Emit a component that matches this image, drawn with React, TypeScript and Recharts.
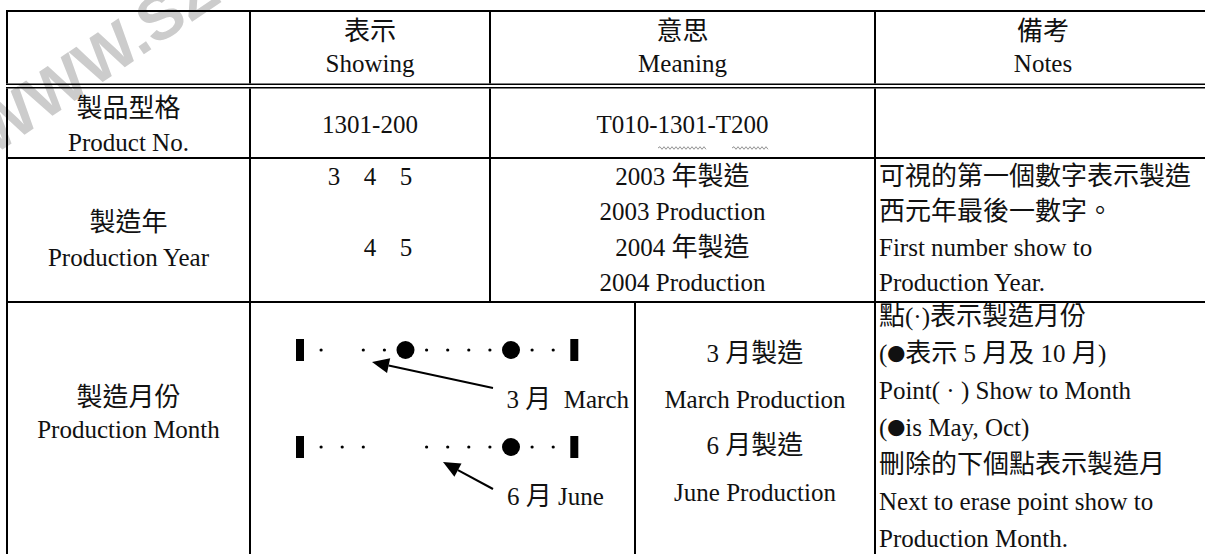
import React from 'react';
import { ScatterChart, Scatter, XAxis, YAxis, Customized } from 'recharts';

const W = 1205;
const H = 554;

// ---- table content ----
const headerZh = ['表示', '意思', '備考'];
const headerEn = ['Showing', 'Meaning', 'Notes'];
const productLabel = ['製品型格', 'Product No.'];
const productShowing = '1301-200';
const productMeaning = 'T010-1301-T200';
const yearLabel = ['製造年', 'Production Year'];
const yearDigitsTop = ['3', '4', '5'];
const yearDigitsBottom = ['', '4', '5'];
const yearMeaning = ['2003 年製造', '2003 Production', '2004 年製造', '2004 Production'];
const yearNotes = ['可視的第一個數字表示製造', '西元年最後一數字。', 'First number show to', 'Production Year.'];
const monthLabel = ['製造月份', 'Production Month'];
const monthArrowLabels = ['3 月  March', '6 月 June'];
const monthMeaning = ['3 月製造', 'March Production', '6 月製造', 'June Production'];
const monthNotes = [
  '點(·)表示製造月份',
  '(●表示 5 月及 10 月)',
  'Point( · ) Show to Month',
  '(●is May, Oct)',
  '刪除的下個點表示製造月',
  'Next to erase point show to',
  'Production Month.',
];
const watermark = 'WWW.SZ';

// ---- month strips (slot 0 and 13 are the end bars, 1..12 are months) ----
const marchSlots = [0, 1, 3, 4, 5, 6, 7, 8, 9, 10, 11, 12, 13];
const juneSlots = [0, 1, 2, 3, 6, 7, 8, 9, 10, 11, 12, 13];
const bigMonths = [5, 10];
const endSlots = [0, 13];

const stripData = [
  ...marchSlots.map((slot) => ({ slot, row: 1 })),
  ...juneSlots.map((slot) => ({ slot, row: 2 })),
];

const LATIN = "'Liberation Serif', serif";
const CJK = "'Noto Sans CJK TC', 'Noto Sans CJK SC', sans-serif";
const FS = 25;
const FS_CJK = 26;
const FS_BULLET = 18;

const runKind = (ch: string) =>
  ch === '●' ? 'bullet' : /[\u2E80-\u9FFF\uFF00-\uFFEF\u3000-\u303F]/.test(ch) ? 'wide' : 'latin';

const toRuns = (s: string) => {
  const out: { t: string; k: string }[] = [];
  for (const ch of s) {
    const k = runKind(ch);
    const last = out[out.length - 1];
    if (last && last.k === k) last.t += ch;
    else out.push({ t: ch, k });
  }
  return out;
};

const StripMark = (props: any) => {
  const { cx, cy, payload } = props;
  if (cx == null || cy == null) return null;
  const s = payload.slot;
  if (endSlots.includes(s)) return <rect x={cx - 4} y={cy - 11} width={8} height={22} fill="#000" />;
  if (bigMonths.includes(s)) return <circle cx={cx} cy={cy} r={9} fill="#000" />;
  return <circle cx={cx} cy={cy} r={1.6} fill="#000" />;
};

const Txt = ({ x, y, children, anchor = 'middle' }: any) => (
  <text
    x={x}
    y={y}
    textAnchor={anchor}
    fontSize={FS}
    fill="#111"
    fontFamily={LATIN}
    style={{ whiteSpace: 'pre' }}
  >
    {toRuns(String(children)).map((r, i) => (
      <tspan
        key={i}
        fontFamily={r.k === 'latin' ? LATIN : CJK}
        fontSize={r.k === 'latin' ? FS : r.k === 'wide' ? FS_CJK : FS_BULLET}
        dy={r.k === 'bullet' ? -1 : i > 0 && toRuns(String(children))[i - 1].k === 'bullet' ? 1 : 0}
      >
        {r.t}
      </tspan>
    ))}
  </text>
);

const wavy = (x0: number, x1: number, y: number) => {
  let d = `M${x0},${y}`;
  let up = true;
  for (let x = x0 + 2; x <= x1; x += 2) {
    d += ` L${x},${y + (up ? -1.3 : 1.3)}`;
    up = !up;
  }
  return d;
};

const Arrow = ({ x1, y1, x2, y2 }: any) => {
  const ang = Math.atan2(y2 - y1, x2 - x1);
  const L = 17;
  const hw = 7.5;
  const bx = x2 - L * Math.cos(ang);
  const by = y2 - L * Math.sin(ang);
  const px = -Math.sin(ang) * hw;
  const py = Math.cos(ang) * hw;
  return (
    <g>
      <line x1={x1} y1={y1} x2={bx} y2={by} stroke="#000" strokeWidth={2} />
      <polygon points={`${x2},${y2} ${bx + px},${by + py} ${bx - px},${by - py}`} fill="#000" />
    </g>
  );
};

const TableLayer = () => {
  const cols = [128.5, 370, 682.5, 1043];
  const line = { stroke: '#000', strokeWidth: 2 };
  const thin = { stroke: '#000', strokeWidth: 1.4 };
  return (
    <g>
      {/* watermark */}
      <text
        transform="translate(-7,156) rotate(-34)"
        fontSize={64}
        fontWeight="bold"
        fill="#cccccc"
        fontFamily="'Liberation Sans', Arial, sans-serif"
      >
        {watermark}
      </text>

      {/* horizontal rules */}
      <line x1={6} y1={11} x2={W} y2={11} {...line} />
      <line x1={6} y1={84.3} x2={W} y2={84.3} {...thin} />
      <line x1={6} y1={87.8} x2={W} y2={87.8} {...thin} />
      <line x1={6} y1={158} x2={W} y2={158} {...line} />
      <line x1={6} y1={302} x2={W} y2={302} {...line} />

      {/* vertical rules */}
      {[7, 250, 490, 875].map((x) => (
        <line key={'a' + x} x1={x} y1={10} x2={x} y2={83.6} {...line} />
      ))}
      {[7, 250, 875].map((x) => (
        <line key={'b' + x} x1={x} y1={88.5} x2={x} y2={H} {...line} />
      ))}
      <line x1={490} y1={88.5} x2={490} y2={303} {...line} />
      <line x1={635} y1={301} x2={635} y2={H} {...line} />

      {/* header */}
      {headerZh.map((t, i) => (
        <Txt key={'hz' + i} x={cols[i + 1]} y={40}>{t}</Txt>
      ))}
      {headerEn.map((t, i) => (
        <Txt key={'he' + i} x={cols[i + 1]} y={72}>{t}</Txt>
      ))}

      {/* product row */}
      <Txt x={cols[0]} y={117}>{productLabel[0]}</Txt>
      <Txt x={cols[0]} y={151}>{productLabel[1]}</Txt>
      <Txt x={cols[1]} y={133}>{productShowing}</Txt>
      <Txt x={cols[2]} y={133}>{productMeaning}</Txt>
      <path d={wavy(658, 707, 148)} stroke="#888" strokeWidth={0.9} fill="none" />
      <path d={wavy(732, 768, 148)} stroke="#888" strokeWidth={0.9} fill="none" />

      {/* year row */}
      <Txt x={cols[0]} y={231}>{yearLabel[0]}</Txt>
      <Txt x={cols[0]} y={266}>{yearLabel[1]}</Txt>
      {yearDigitsTop.map((d, i) => (
        <Txt key={'yt' + i} x={334 + i * 36} y={185}>{d}</Txt>
      ))}
      {yearDigitsBottom.map((d, i) => (
        <Txt key={'yb' + i} x={334 + i * 36} y={256}>{d}</Txt>
      ))}
      {yearMeaning.map((t, i) => (
        <Txt key={'ym' + i} x={cols[2]} y={185 + i * 35.3}>{t}</Txt>
      ))}
      {yearNotes.map((t, i) => (
        <Txt key={'yn' + i} x={879} y={185 + i * 35.3} anchor="start">{t}</Txt>
      ))}

      {/* month row */}
      <Txt x={cols[0]} y={406}>{monthLabel[0]}</Txt>
      <Txt x={cols[0]} y={438}>{monthLabel[1]}</Txt>
      <Txt x={629} y={408} anchor="end">{monthArrowLabels[0]}</Txt>
      <Txt x={507} y={505} anchor="start">{monthArrowLabels[1]}</Txt>
      {monthMeaning.map((t, i) => (
        <Txt key={'mm' + i} x={755} y={362 + i * 46.2}>{t}</Txt>
      ))}
      {monthNotes.map((t, i) => (
        <Txt key={'mn' + i} x={879} y={324.5 + i * 37} anchor="start">{t}</Txt>
      ))}
      <Arrow x1={493} y1={388} x2={372} y2={362} />
      <Arrow x1={493} y1={489} x2={443} y2={462} />
    </g>
  );
};

export default function App() {
  return (
    <div style={{ position: 'absolute', left: 0, top: 0, width: W, height: H, background: '#fff' }}>
      <ScatterChart width={W} height={H} margin={{ top: 0, right: 0, bottom: 0, left: 0 }}>
        <XAxis
          xAxisId="slot"
          dataKey="slot"
          type="number"
          scale="linear"
          domain={[-14.218, 42.891]}
          allowDataOverflow
          hide
        />
        <YAxis
          yAxisId="strip"
          dataKey="row"
          type="number"
          scale="linear"
          domain={[-2.608, 3.103]}
          reversed
          allowDataOverflow
          hide
        />
        <Customized component={<TableLayer />} />
        <Scatter
          xAxisId="slot"
          yAxisId="strip"
          data={stripData}
          shape={StripMark}
          isAnimationActive={false}
        />
      </ScatterChart>
    </div>
  );
}
